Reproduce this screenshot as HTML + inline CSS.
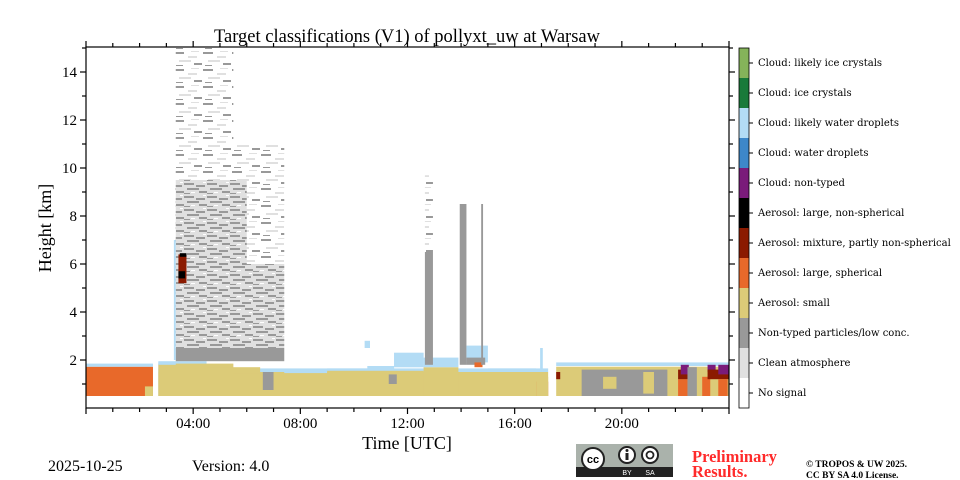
<!DOCTYPE html>
<html><head><meta charset="utf-8"><style>
body{margin:0;background:#fff;width:960px;height:480px;overflow:hidden;font-family:"Liberation Serif",serif}
svg{display:block}
</style></head><body>
<svg id="chart" width="960" height="480" viewBox="0 0 960 480" xmlns="http://www.w3.org/2000/svg">
<defs>
<pattern id="dense" width="23" height="13" patternUnits="userSpaceOnUse">
<rect width="23" height="13" fill="#e0e0e0"/>
<rect x="0" y="1" width="10" height="2" fill="#999"/><rect x="12" y="3" width="9" height="2" fill="#999"/>
<rect x="3" y="6" width="12" height="2" fill="#999"/><rect x="15" y="9" width="8" height="2" fill="#999"/>
<rect x="0" y="11" width="6" height="1" fill="#999"/>
<rect x="19" y="0" width="3" height="1" fill="#fff"/><rect x="7" y="10" width="4" height="1" fill="#fff"/>
</pattern>
<pattern id="sparse" width="29" height="17" patternUnits="userSpaceOnUse">
<rect width="29" height="17" fill="#fff"/>
<rect x="0" y="1" width="10" height="2" fill="#999"/><rect x="14" y="5" width="9" height="2" fill="#e0e0e0"/>
<rect x="5" y="9" width="12" height="2" fill="#e0e0e0"/><rect x="20" y="12" width="8" height="2" fill="#999"/>
<rect x="2" y="14" width="7" height="1" fill="#999"/><rect x="17" y="0" width="8" height="1" fill="#e0e0e0"/>
</pattern>
</defs>
<g id="marks"></g>
<g id="axes"></g>
<text x="407" y="42" text-anchor="middle" font-size="18.5">Target classifications (V1) of pollyxt_uw at Warsaw</text>
<text transform="translate(51,228) rotate(-90)" text-anchor="middle" font-size="18">Height [km]</text>
<text x="407" y="449" text-anchor="middle" font-size="18">Time [UTC]</text>
<text x="48" y="471" font-size="16">2025-10-25</text>
<text x="192" y="471" font-size="16">Version: 4.0</text>
<g>
<rect x="576" y="444" width="97" height="33" fill="#aab2ab"/>
<rect x="576" y="467" width="97" height="10" fill="#222"/>
<circle cx="593" cy="459" r="11" fill="#fff" stroke="#222" stroke-width="2"/>
<text x="593" y="463" text-anchor="middle" font-family="Liberation Sans,sans-serif" font-size="11" font-weight="bold">cc</text>
<circle cx="627" cy="455" r="8" fill="#fff" stroke="#222" stroke-width="2"/>
<rect x="625.5" y="453" width="3" height="7" fill="#222"/><circle cx="627" cy="450.5" r="1.5" fill="#222"/>
<circle cx="650" cy="455" r="8" fill="#fff" stroke="#222" stroke-width="2"/>
<circle cx="650" cy="455" r="3.5" fill="none" stroke="#222" stroke-width="1.8"/>
<text x="627" y="475" text-anchor="middle" fill="#fff" font-family="Liberation Sans,sans-serif" font-size="7">BY</text>
<text x="650" y="475" text-anchor="middle" fill="#fff" font-family="Liberation Sans,sans-serif" font-size="7">SA</text>
</g>
<text x="692" y="462" fill="#ff2a2a" font-size="16.5" font-weight="bold">Preliminary</text>
<text x="692" y="477" fill="#ff2a2a" font-size="16.5" font-weight="bold">Results.</text>
<text x="806" y="467" font-size="9.5" font-weight="bold">© TROPOS &amp; UW 2025.</text>
<text x="806" y="478" font-size="9.5" font-weight="bold">CC BY SA 4.0 License.</text>
</svg>
<script>
const classNames=["No signal","Clean atmosphere","Non-typed particles/low conc.","Aerosol: small","Aerosol: large, spherical","Aerosol: mixture, partly non-spherical","Aerosol: large, non-spherical","Cloud: non-typed","Cloud: water droplets","Cloud: likely water droplets","Cloud: ice crystals","Cloud: likely ice crystals"];
const classColors=["#ffffff","#e0e0e0","#999999","#dccb78","#e8692a","#8b1a00","#000000","#7a1b7a","#3d87c9","#b3dcf5","#197a3a","#85b35a","url(#dense)","url(#sparse)"];
const xTicks=[4,8,12,16,20];
const xTickLabels=["04:00","08:00","12:00","16:00","20:00"];
const yTicks=[2,4,6,8,10,12,14];
// blocks: [startHour, endHour, bottomKm, topKm, classIndex]
const blockStart=[2.7,2.7,0,0,2.2,2.7,2.7,4.5,5.5,6.5,2.7,6.6,3.35,3.35,3.35,3.35,3.35,3.45,3.45,3.5,3.28,7.4,7.4,9,10.5,11.5,9,10.4,11.5,11.3,12.6,12.6,12.65,12.65,13.95,14.2,14.2,14.5,15,15,16.8,16.8,16.95,17.55,17.55,18.5,19.3,20.8,17.55,22.1,22.1,22.2,22.45,23.0,23.2,23.2,23.6,23.6,14.75];
const blockEnd=[17.25,17.25,2.5,2.5,2.5,4.5,5.5,6.5,7.4,7.4,3.35,7.0,7.4,7.4,5.5,7.4,6.0,3.75,3.7,3.75,3.35,9,9,10.5,11.5,12.6,12.6,10.6,12.6,11.6,13.9,13.9,12.95,12.95,14.2,15,14.9,14.8,16.8,16.8,17.25,17.25,17.05,24,24,21.7,19.8,21.2,17.7,22.45,22.5,22.5,22.8,23.3,23.5,24,23.95,24,14.82];
const blockBottom=[0.5,1.5,0.5,1.72,0.5,0.5,0.5,0.5,0.5,0.5,1.8,0.75,1.95,6,11,2.5,6,5.2,5.4,6.3,2,1.45,0.5,1.5,1.6,1.7,0.5,2.5,1.7,1.0,0.5,1.7,1.8,6.5,1.8,1.9,1.8,1.7,0.5,1.5,0.5,0.5,1.5,1.75,0.5,0.5,0.8,0.6,1.2,0.5,1.2,1.4,0.5,0.5,1.5,1.2,0.5,1.4,1.8];
const blockTop=[1.5,1.65,1.72,1.85,0.9,1.95,1.85,1.7,1.45,1.5,1.9,1.5,2.5,11,15,6,9.5,6.4,5.7,6.45,7,1.6,1.45,1.65,1.75,2.3,1.55,2.8,2.3,1.4,1.7,2.1,6.5,9.7,8.5,2.6,2.1,1.9,1.5,1.65,1.1,1.3,2.5,1.9,1.72,1.6,1.3,1.5,1.5,1.2,1.6,1.8,1.7,1.3,1.8,1.6,1.2,1.8,8.5];
const blockClass=[3,9,4,9,3,9,3,3,3,3,9,2,2,13,13,12,12,5,6,6,9,9,3,9,9,9,3,9,9,2,3,9,2,13,2,9,2,4,3,9,4,3,9,9,3,2,3,3,5,4,5,7,2,4,7,5,4,7,2];

const NS="http://www.w3.org/2000/svg";
const X0=86,X1=729,Y0=47,Y1=396;
const xs=h=>X0+h/24*(X1-X0);
const ys=k=>408-k*24;
const marks=document.getElementById('marks');
const axes=document.getElementById('axes');
function mk(tag,attrs,parent){const e=document.createElementNS(NS,tag);for(const k in attrs)e.setAttribute(k,attrs[k]);parent.appendChild(e);return e;}
for(let i=0;i<blockStart.length;i++){
  const yt=Math.max(ys(blockTop[i]),Y0), yb=Math.min(ys(blockBottom[i]),Y1);
  const r=mk('rect',{x:xs(blockStart[i]),y:yt,width:xs(blockEnd[i])-xs(blockStart[i]),height:Math.max(0,yb-yt),fill:classColors[blockClass[i]]},marks);
  
  
}
const frame=mk('rect',{x:X0,y:Y0,width:X1-X0,height:Y1-Y0+12,fill:'none',stroke:'#000','stroke-width':1.2},axes);


const yb=408;
for(let h=0;h<=24;h++){
  const major=h%4===0, L=major?6:4;
  mk('line',{x1:xs(h),x2:xs(h),y1:yb,y2:yb+L,stroke:'#000','stroke-width':1.2},axes);
  mk('line',{x1:xs(h),x2:xs(h),y1:Y0,y2:Y0-L,stroke:'#000','stroke-width':1.2},axes);
}
xTicks.forEach((t,i)=>{
  const tx=mk('text',{x:xs(t),y:428,'text-anchor':'middle','font-size':15},axes);
  tx.textContent=xTickLabels[i];
  
  
});
for(let k=1;k<=15;k++){
  const major=k%2===0, L=major?6:4;
  mk('line',{x1:X0,x2:X0-L,y1:ys(k),y2:ys(k),stroke:'#000','stroke-width':1.2},axes);
  mk('line',{x1:X1,x2:X1+L,y1:ys(k),y2:ys(k),stroke:'#000','stroke-width':1.2},axes);
}
yTicks.forEach(t=>{
  const tx=mk('text',{x:77,y:ys(t)+5,'text-anchor':'end','font-size':15},axes);
  tx.textContent=t;
  
  
});
const svg=document.getElementById('chart');
const cb=mk('g',{},svg);


classNames.forEach((n,i)=>{
  const y=378-i*30;
  const r=mk('rect',{x:739,y:y,width:10,height:30,fill:classColors[i]},cb);
  
  
  mk('line',{x1:749,x2:753,y1:y+15,y2:y+15,stroke:'#000'},cb);
  const t=mk('text',{x:758,y:y+18,'font-size':10,'font-family':'DejaVu Serif, serif'},cb);
  t.textContent=n;
  
  
});
mk('rect',{x:739,y:48,width:10,height:360,fill:'none',stroke:'#000','stroke-width':0.8},cb);
</script>
</body></html>
